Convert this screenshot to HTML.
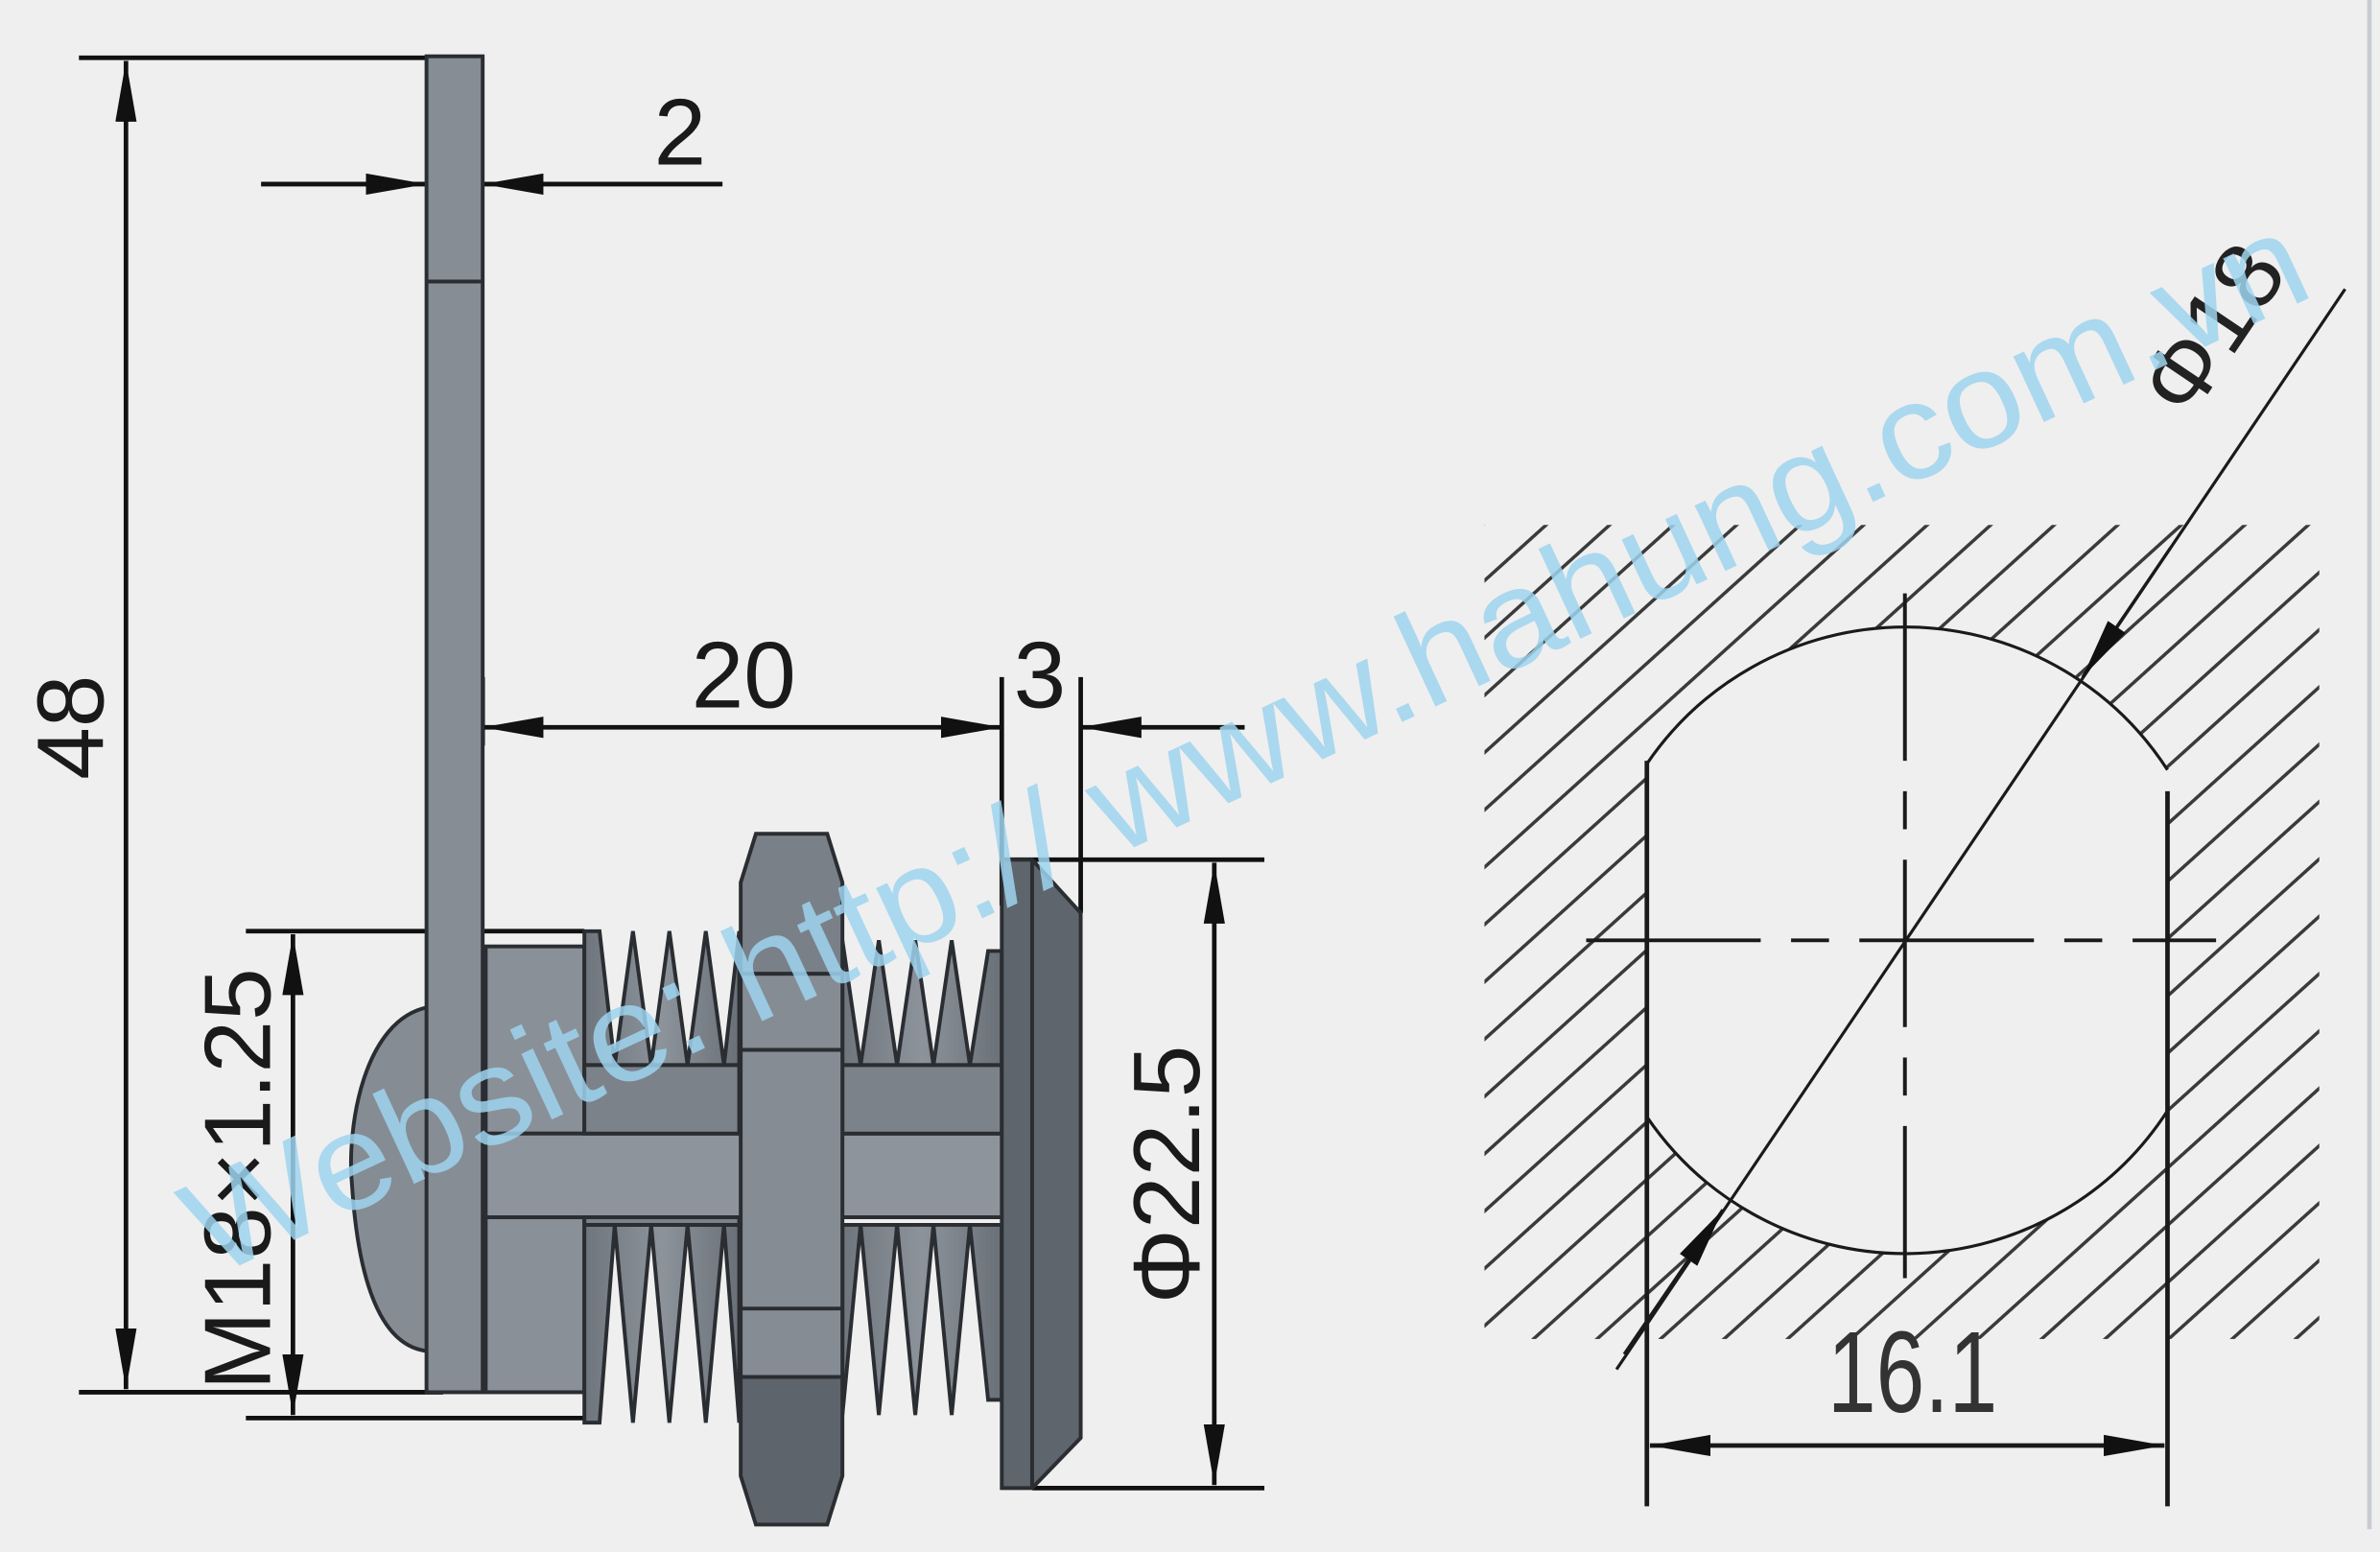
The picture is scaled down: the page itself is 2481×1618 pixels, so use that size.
<!DOCTYPE html>
<html><head><meta charset="utf-8"><style>
html,body{margin:0;padding:0;background:#efefef;}
svg{display:block;}
text{font-family:"Liberation Sans",sans-serif;}
</style></head><body>
<svg width="2481" height="1618" viewBox="0 0 1568 1020" preserveAspectRatio="none" xmlns="http://www.w3.org/2000/svg">
<defs>
<marker id="a" viewBox="0 0 40 14" refX="40" refY="7" markerWidth="40" markerHeight="14" markerUnits="userSpaceOnUse" orient="auto-start-reverse"><path d="M0,0 L40,7 L0,14 Z" fill="#111"/></marker>
<pattern id="h" patternUnits="userSpaceOnUse" width="28" height="28" patternTransform="rotate(-42)"><line x1="0" y1="14" x2="28" y2="14" stroke="#3a3a3a" stroke-width="2.2"/></pattern>
<linearGradient id="g" x1="0" y1="0" x2="1" y2="0"><stop offset="0" stop-color="#6f757c"/><stop offset="0.5" stop-color="#8d939b"/><stop offset="1" stop-color="#6a7077"/></linearGradient>
</defs>
<rect width="1568" height="1020" fill="#efefef"/>
<line x1="1561" y1="0" x2="1561" y2="1005" stroke="#c8ccd2" stroke-width="3"/>

<g stroke="#111" stroke-width="3" fill="none">
<line x1="52" y1="38" x2="292" y2="38"/>
<line x1="52" y1="915" x2="292" y2="915"/>
<line x1="83" y1="40" x2="83" y2="913" marker-start="url(#a)" marker-end="url(#a)"/>
<line x1="172" y1="121" x2="281" y2="121" marker-end="url(#a)"/>
<line x1="476" y1="121" x2="318" y2="121" marker-end="url(#a)"/>
<line x1="318" y1="478" x2="660" y2="478" marker-start="url(#a)" marker-end="url(#a)"/>
<line x1="820" y1="478" x2="712" y2="478" marker-end="url(#a)"/>
<line x1="660" y1="445" x2="660" y2="595"/>
<line x1="712" y1="445" x2="712" y2="600"/>
<line x1="318" y1="445" x2="318" y2="490"/>
<line x1="660" y1="565" x2="833" y2="565"/>
<line x1="680" y1="978" x2="833" y2="978"/>
<line x1="800" y1="567" x2="800" y2="976" marker-start="url(#a)" marker-end="url(#a)"/>
<line x1="162" y1="612" x2="385" y2="612"/>
<line x1="162" y1="932" x2="395" y2="932"/>
<line x1="193" y1="614" x2="193" y2="930" marker-start="url(#a)" marker-end="url(#a)"/>
</g>
<g fill="#1a1a1a" font-size="62">
<text x="448" y="108" text-anchor="middle">2</text>
<text x="490" y="465" text-anchor="middle">20</text>
<text x="685" y="465" text-anchor="middle">3</text>
<text transform="translate(68,478) rotate(-90)" text-anchor="middle">48</text>
<text transform="translate(790,772) rotate(-90)" text-anchor="middle">Φ22.5</text>
<text transform="translate(178,775) rotate(-90)" text-anchor="middle">M18×1.25</text>
</g>

<g stroke="#2a2d31" stroke-width="2.5">
<path d="M282,662 C240,670 228,740 232,780 C236,840 250,885 282,888 Z" fill="#868c94"/>
<rect x="281" y="37" width="37" height="878" fill="#878d95"/>
<line x1="281" y1="185" x2="318" y2="185"/>
<rect x="320" y="622" width="65" height="123" fill="#8a9098"/>
<rect x="320" y="800" width="65" height="115" fill="#8a9098"/>
<rect x="320" y="745" width="345" height="55" fill="#8e949c"/>
<path d="M385,700 L385,612 L395,612 L405,700 L417,612 L429,700 L441,612 L453,700 L465,612 L477,700 L487,612 L487,700 Z" fill="url(#g)"/>
<path d="M555,700 L555,618 L567,700 L579,618 L591,700 L603,618 L615,700 L627,618 L639,700 L651,625 L660,625 L660,700 Z" fill="url(#g)"/>
<path d="M385,805 L385,935 L395,935 L405,805 L417,935 L429,805 L441,935 L453,805 L465,935 L477,805 L487,935 L487,805 Z" fill="url(#g)"/>
<path d="M555,805 L555,930 L567,805 L579,930 L591,805 L603,930 L615,805 L627,930 L639,805 L651,920 L660,920 L660,805 Z" fill="url(#g)"/>
<rect x="385" y="700" width="102" height="45" fill="#7c828a"/>
<rect x="385" y="800" width="102" height="5" fill="#7c828a"/>
<rect x="555" y="700" width="105" height="45" fill="#7c828a"/>
<path d="M498,548 L545,548 L555,580 L555,640 L488,640 L488,580 Z" fill="#7a8088"/>
<rect x="488" y="640" width="67" height="265" fill="#868c94"/>
<path d="M488,905 L555,905 L555,970 L545,1002 L498,1002 L488,970 Z" fill="#5e646b"/>
<line x1="488" y1="690" x2="555" y2="690"/>
<line x1="488" y1="860" x2="555" y2="860"/>
<path d="M660,565 L680,565 L712,600 L712,945 L680,978 L660,978 Z" fill="#5f656c"/>
<line x1="680" y1="565" x2="680" y2="978"/>
</g>

<rect x="978" y="345" width="550" height="535" fill="url(#h)"/>
<path d="M1085,502 A206,206 0 0 1 1428,506 L1428,730 A206,206 0 0 1 1085,734 Z" fill="#efefef"/>
<g stroke="#1a1a1a" fill="none">
<path d="M1085,502 A206,206 0 0 1 1428,506" stroke-width="2"/>
<path d="M1085,734 A206,206 0 0 0 1428,730" stroke-width="2"/>
<line x1="1085" y1="500" x2="1085" y2="990" stroke-width="3"/>
<line x1="1428" y1="520" x2="1428" y2="990" stroke-width="3"/>
<line x1="1045" y1="618" x2="1460" y2="618" stroke-width="2.5" stroke-dasharray="115,20,25,20"/>
<line x1="1255" y1="390" x2="1255" y2="840" stroke-width="2.5" stroke-dasharray="110,20,25,20"/>
<line x1="1087" y1="950" x2="1426" y2="950" stroke-width="3" marker-start="url(#a)" marker-end="url(#a)"/>
<line x1="1065" y1="900" x2="1545" y2="190" stroke-width="2"/>
<line x1="1430" y1="360" x2="1372" y2="445" stroke-width="2" marker-end="url(#a)"/>
<line x1="1070" y1="890" x2="1135" y2="795" stroke-width="2" marker-end="url(#a)"/>
</g>
<text x="1260" y="928" text-anchor="middle" font-size="76" fill="#333" textLength="112" lengthAdjust="spacingAndGlyphs">16.1</text>
<text transform="translate(1475,228) rotate(-56)" text-anchor="middle" font-size="62" fill="#222">Φ18</text>

<text transform="translate(140,840) rotate(-25)" font-size="90" fill="#9dd3ef" fill-opacity="0.85" textLength="1530" lengthAdjust="spacingAndGlyphs">Website: http:// www.hahung.com.vn</text>
</svg>
</body></html>
